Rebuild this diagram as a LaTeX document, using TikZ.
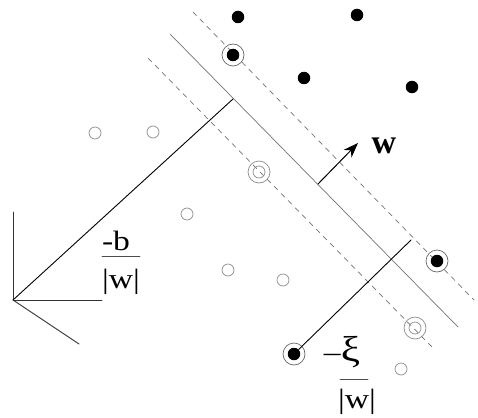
\documentclass[tikz,border=0pt]{standalone}
\usepackage{fontspec}
\setmainfont{Liberation Serif}
\usetikzlibrary{arrows.meta}
\newcommand{\stretchtxt}[1]{\scalebox{1.2}[1]{#1}}
\begin{document}
\begin{tikzpicture}[x=1pt, y=-1pt, line cap=round,
    posdot/.style={circle, fill=black, inner sep=0pt, minimum size=12.5pt},
    negdot/.style={circle, draw=black!45, line width=0.7pt, inner sep=0pt, minimum size=12pt},
    ring/.style={draw=black!60, line width=0.7pt},
    margin/.style={draw=black!55, line width=0.7pt, dash pattern=on 5pt off 5pt},
    lbl/.style={font=\fontsize{28}{30}\selectfont, inner sep=0pt, anchor=base}]
  \useasboundingbox (0,0) rectangle (478,417);
  % hyperplane and margins
  \coordinate (h1) at (170,34);  \coordinate (h2) at (458,327);
  \coordinate (u1) at (193,12);  \coordinate (u2) at (474,300);
  \coordinate (l1) at (148,58);  \coordinate (l2) at (435,350);
  \draw[black!55, line width=0.7pt] (h1) -- (h2);
  \draw[margin] (u1) -- (u2);
  \draw[margin] (l1) -- (l2);
  % axes
  \coordinate (O) at (13,300);
  \coordinate (ax1) at (13,212);
  \coordinate (ax2) at (102,300);
  \coordinate (ax3) at (79,344);
  \draw[black!80, line width=0.9pt] (ax1) -- (O) -- (ax2);
  \draw[black!80, line width=0.9pt] (O) -- (ax3);
  % offset of the hyperplane
  \coordinate (foot) at (233,99);
  \draw[line width=0.9pt] (O) -- (foot);
  \node[lbl] (bnum) at (116,250) {\stretchtxt{-b}};
  \node[lbl] (bden) at (121,288) {\stretchtxt{|w|}};
  \coordinate (bbar1) at (102,256); \coordinate (bbar2) at (140,256);
  \draw[black!70, line width=0.9pt] (bbar1) -- (bbar2);
  % normal vector
  \coordinate (wa) at (318,184);
  \coordinate (wb) at (358,143);
  \draw[line width=1pt, -{Stealth[length=15pt,width=11pt]}] (wa) -- (wb);
  \node[lbl, anchor=center, font=\fontsize{34}{36}\selectfont\bfseries] (w) at (384,146) {w};
  % filled points
  \node[posdot] (p1) at (238,17) {};
  \node[posdot] (p2) at (357,15) {};
  \node[posdot] (p3) at (304,78) {};
  \node[posdot] (p4) at (412,87) {};
  \node[posdot] (p5) at (233,55) {};
  \node[posdot] (p6) at (437,261) {};
  \node[posdot] (p7) at (294,354) {};
  \draw[ring] (p5) circle (11); \draw[ring] (p6) circle (11); \draw[ring] (p7) circle (11);
  % open points
  \node[negdot] (n1) at (95,133) {};
  \node[negdot] (n2) at (153,132) {};
  \node[negdot] (n3) at (187,214) {};
  \node[negdot] (n4) at (228,270) {};
  \node[negdot] (n5) at (283,280) {};
  \node[negdot] (n6) at (401,369) {};
  \node[negdot] (n7) at (259,172) {};
  \node[negdot] (n8) at (415,328) {};
  \draw[ring, draw=black!45] (n7) circle (11); \draw[ring, draw=black!45] (n8) circle (11);
  % slack of the misclassified point
  \coordinate (xi) at (411,240);
  \draw[line width=0.9pt] (p7) -- (xi);
  \node[lbl] (xinum) at (342,361) {\stretchtxt{–{\fontsize{36}{38}\selectfont ξ}}};
  \node[lbl] (xiden) at (357,408) {\stretchtxt{|w|}};
  \coordinate (xbar1) at (340,379); \coordinate (xbar2) at (368,379);
  \draw[black!70, line width=0.9pt] (xbar1) -- (xbar2);
\end{tikzpicture}
\end{document}
